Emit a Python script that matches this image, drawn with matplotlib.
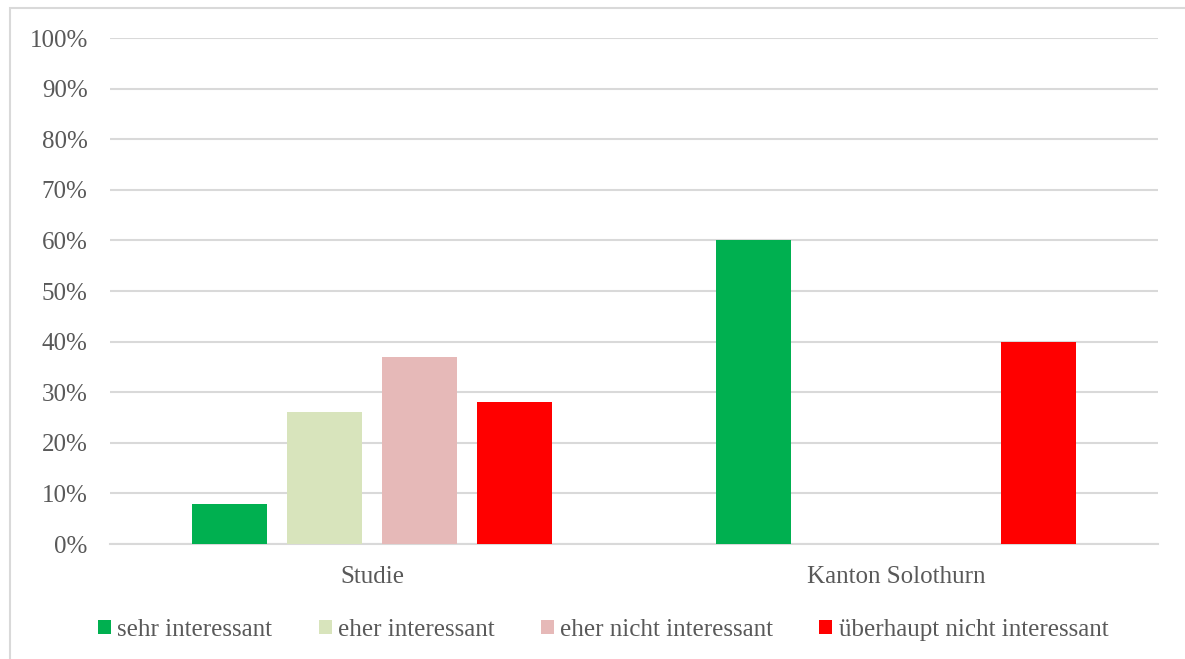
import numpy as np
import matplotlib.pyplot as plt
from matplotlib.patches import Rectangle
from matplotlib.ticker import PercentFormatter

plt.rcParams["font.family"] = ["Liberation Serif", "DejaVu Serif"]

categories = ["Studie", "Kanton Solothurn"]
series = ["sehr interessant", "eher interessant", "eher nicht interessant",
          "überhaupt nicht interessant"]
values = [
    [0.08, 0.60],
    [0.26, 0.00],
    [0.37, 0.00],
    [0.28, 0.40],
]
colors = ["#00B050", "#D8E4BC", "#E6B9B8", "#FF0000"]

text_color = "#595959"
grid_color = "#D9D9D9"

fig = plt.figure(figsize=[11.85, 6.59], dpi=100)
ax = fig.add_axes([0.0928, 0.1745, 0.8844, 0.7678])

x = np.arange(len(categories))
width = 0.143
step = 0.181
for i, (name, vals, col) in enumerate(zip(series, values, colors)):
    ax.bar(x + (i - 1.5) * step, vals, width, color=col, label=name, zorder=3)

ax.set_xlim(-0.5, len(categories) - 0.5)
ax.set_ylim(0, 1)
ax.set_yticks(np.arange(0, 1.01, 0.1))
ax.yaxis.set_major_formatter(PercentFormatter(1.0, decimals=0))
ax.set_xticks(x)
ax.set_xticklabels(categories)

ax.grid(axis="y", color=grid_color, linewidth=1.5, zorder=0)
for s in ["top", "right", "left"]:
    ax.spines[s].set_visible(False)
ax.spines["bottom"].set_color(grid_color)
ax.spines["bottom"].set_linewidth(1.5)
ax.tick_params(axis="y", length=0, pad=16, labelsize=18, labelcolor=text_color)
ax.tick_params(axis="x", length=0, pad=16, labelsize=18, labelcolor=text_color)

leg = fig.legend(loc="center", bbox_to_anchor=(0.509, 0.044), ncol=4,
                 frameon=False, fontsize=18, handlelength=0.52,
                 handleheight=0.52, handletextpad=0.25, columnspacing=1.85)
for t in leg.get_texts():
    t.set_color(text_color)

# outer chart border (only top and left edges visible)
fig.patches.append(Rectangle((0.0084, -0.05), 1.1, 1.0377, transform=fig.transFigure,
                             fill=False, edgecolor=grid_color, linewidth=1.5))

fig.savefig("out.png", dpi=100)
